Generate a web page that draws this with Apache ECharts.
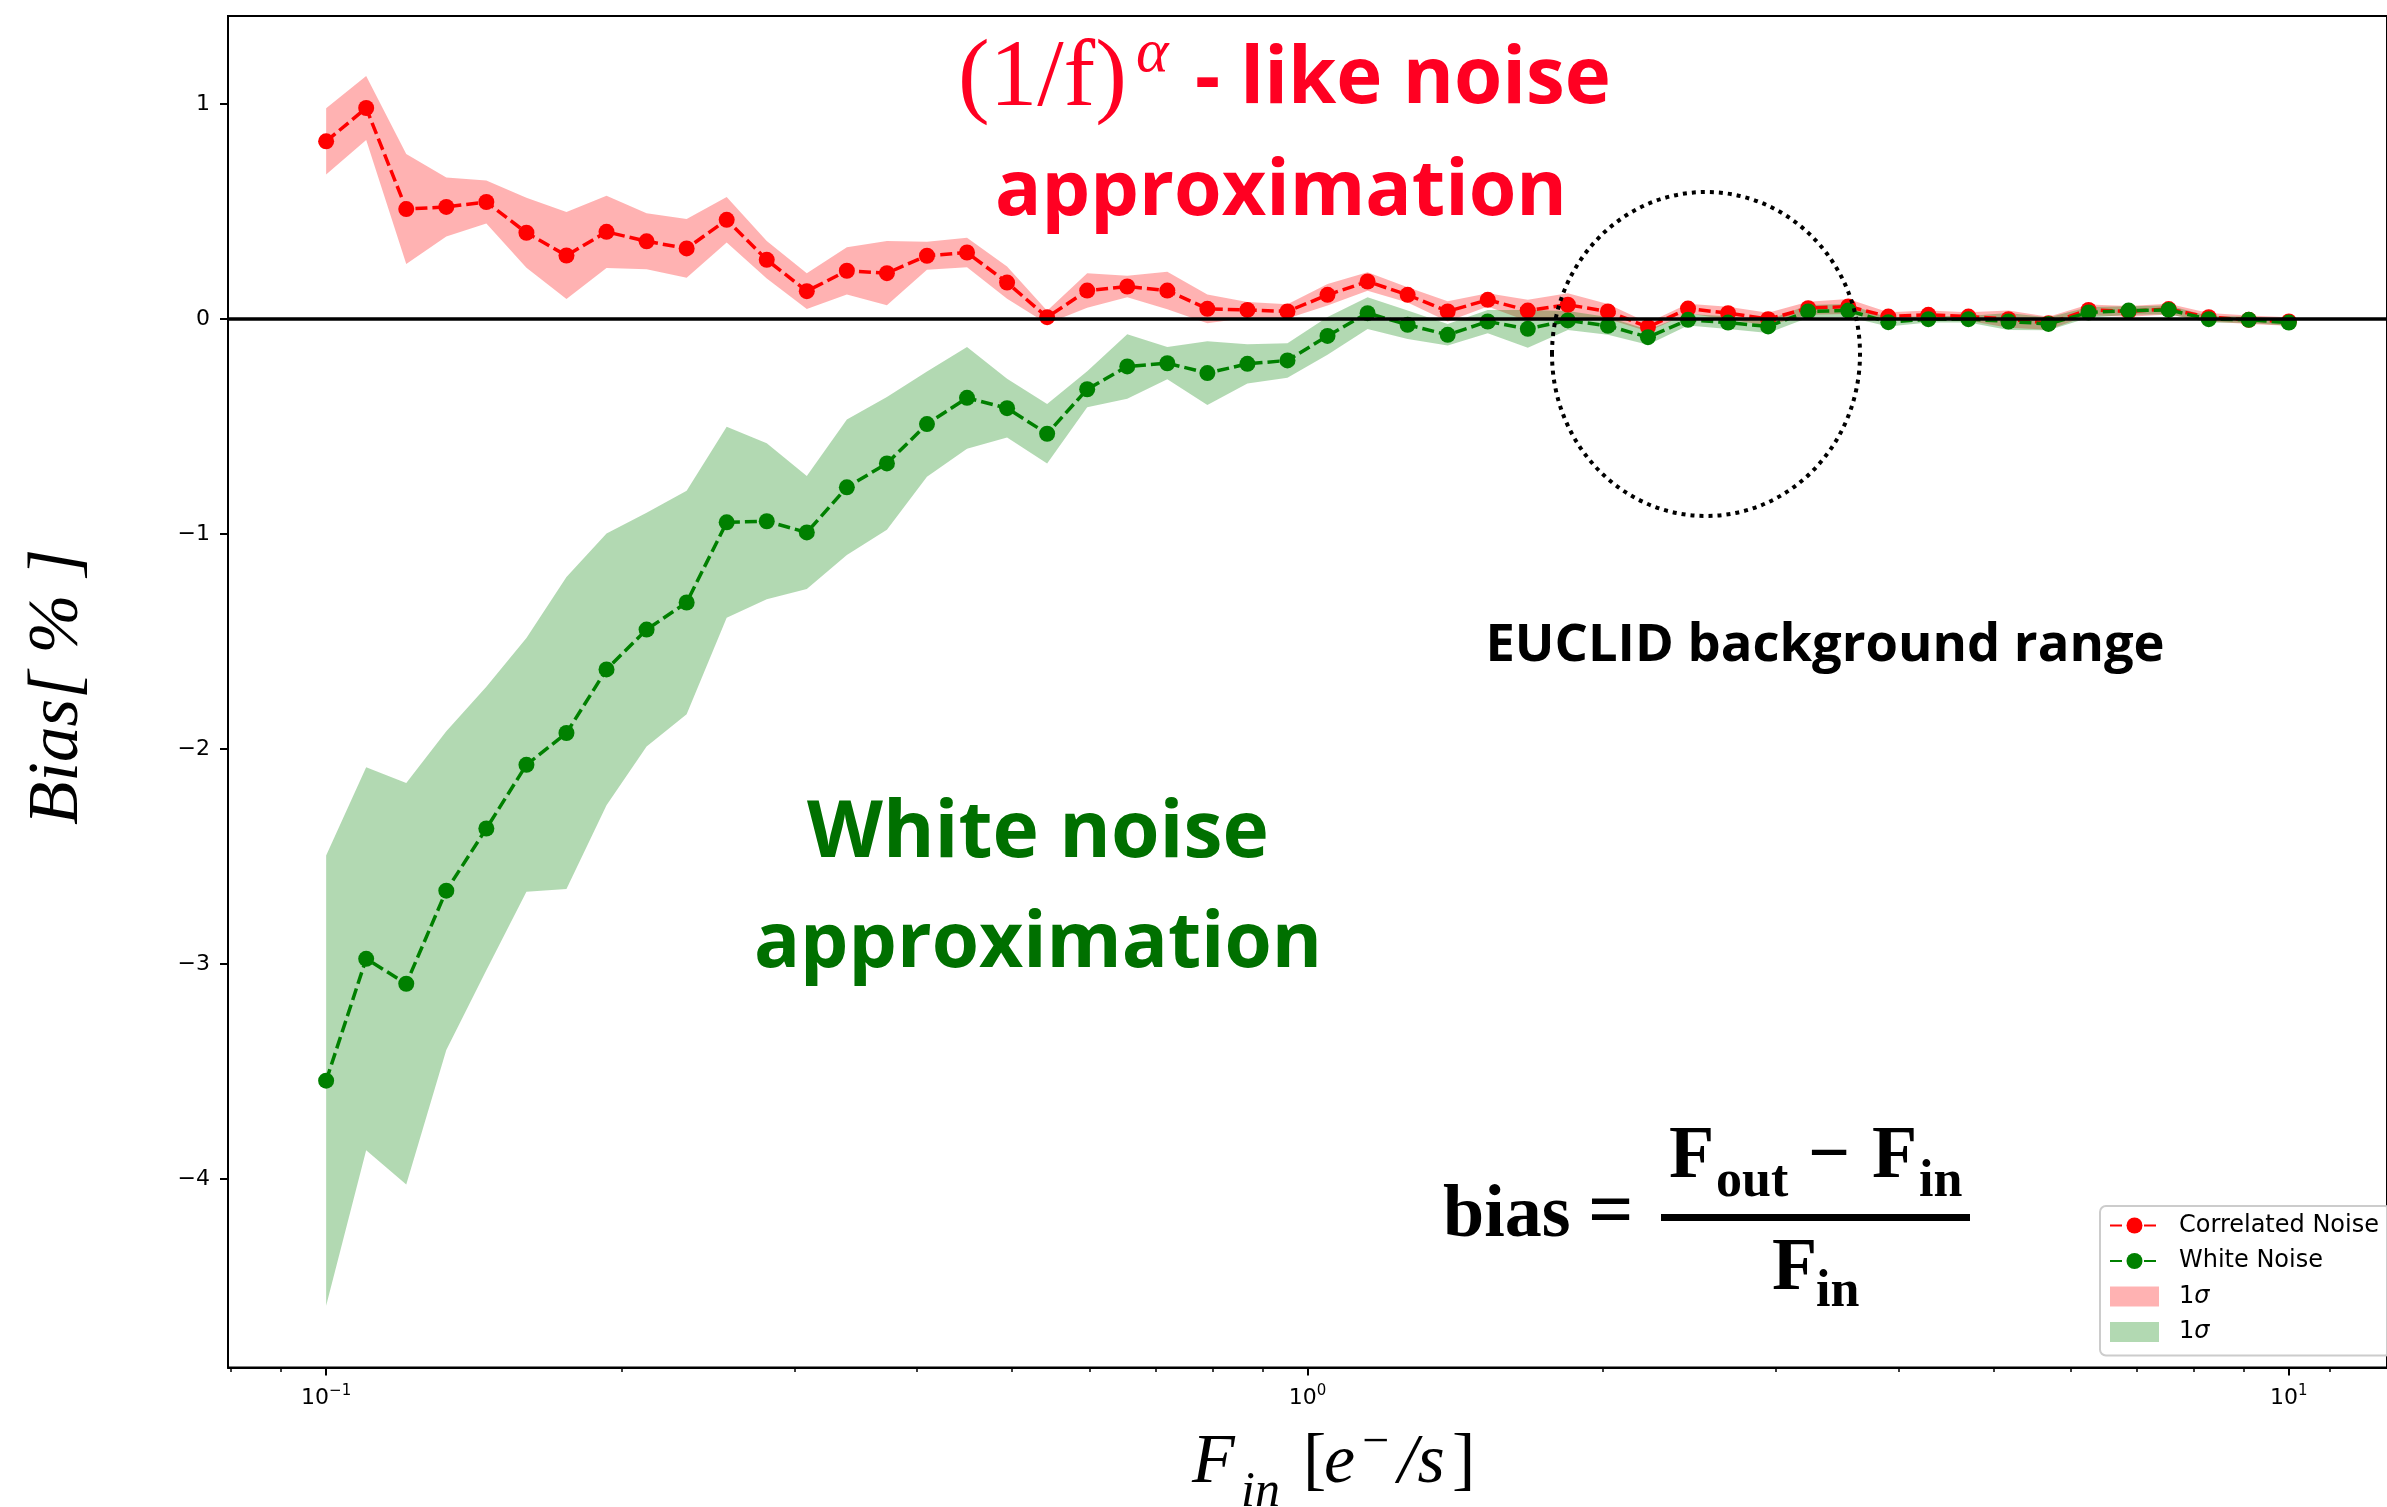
<!DOCTYPE html>
<html>
<head>
<meta charset="utf-8">
<script src="https://cdn.jsdelivr.net/npm/echarts@6/dist/echarts.min.js"></script>
<style>
  html, body { margin: 0; padding: 0; background: #ffffff; }
  #chart { width: 2387px; height: 1507px; }
</style>
</head>
<body>
<div id="chart"></div>
<script>
// Input flux F_in [e-/s] of the simulated ramps (log-spaced samples)
const fluxIn = [0.1, 0.10985, 0.12068, 0.13257, 0.14563, 0.15999, 0.17575, 0.19307, 0.2121, 0.233,
  0.25595, 0.28118, 0.30888, 0.33932, 0.37276, 0.40949, 0.44984, 0.49417, 0.54287, 0.59636,
  0.65513, 0.71969, 0.7906, 0.86851, 0.9541, 1.04811, 1.1514, 1.26486, 1.3895, 1.52642,
  1.67683, 1.84207, 2.02359, 2.223, 2.44205, 2.6827, 2.94705, 3.23746, 3.55648, 3.90694,
  4.29193, 4.71487, 5.17947, 5.68987, 6.25055, 6.86649, 7.54312, 8.28643, 9.10298, 10];

// Bias [%] with the correlated ((1/f)^alpha) noise model, and its 1-sigma spread
const correlatedBias = [0.827, 0.982, 0.512, 0.522, 0.545, 0.402, 0.296, 0.406, 0.362, 0.329,
  0.462, 0.276, 0.130, 0.225, 0.214, 0.295, 0.310, 0.170, 0.009, 0.133,
  0.152, 0.133, 0.048, 0.043, 0.036, 0.113, 0.175, 0.113, 0.036, 0.090,
  0.040, 0.067, 0.036, -0.037, 0.049, 0.028, 0.000, 0.051, 0.059, 0.012,
  0.020, 0.012, 0.000, -0.019, 0.043, 0.036, 0.047, 0.009, -0.003, -0.011];
const correlatedSigma = [0.154, 0.149, 0.256, 0.137, 0.100, 0.163, 0.202, 0.168, 0.130, 0.137,
  0.106, 0.087, 0.083, 0.110, 0.149, 0.065, 0.069, 0.075, 0.030, 0.080,
  0.050, 0.087, 0.067, 0.037, 0.033, 0.050, 0.043, 0.035, 0.047, 0.031,
  0.050, 0.054, 0.035, 0.020, 0.023, 0.030, 0.030, 0.030, 0.035, 0.020,
  0.020, 0.020, 0.040, 0.030, 0.025, 0.025, 0.025, 0.020, 0.020, 0.020];

// Bias [%] with the white noise model, and its 1-sigma spread
const whiteBias = [-3.542, -2.975, -3.091, -2.658, -2.369, -2.073, -1.925, -1.629, -1.444, -1.318,
  -0.945, -0.940, -0.992, -0.782, -0.671, -0.488, -0.366, -0.414, -0.533, -0.326,
  -0.220, -0.205, -0.251, -0.208, -0.192, -0.078, 0.028, -0.026, -0.073, -0.011,
  -0.045, -0.006, -0.031, -0.084, -0.003, -0.016, -0.034, 0.036, 0.040, -0.014,
  0.000, 0.000, -0.011, -0.022, 0.031, 0.040, 0.043, 0.000, -0.003, -0.016];
const whiteSigma = [1.047, 0.891, 0.934, 0.741, 0.659, 0.590, 0.726, 0.632, 0.544, 0.520,
  0.444, 0.363, 0.263, 0.315, 0.309, 0.245, 0.237, 0.137, 0.138, 0.084,
  0.150, 0.075, 0.148, 0.091, 0.080, 0.088, 0.074, 0.066, 0.050, 0.054,
  0.088, 0.044, 0.041, 0.035, 0.027, 0.030, 0.030, 0.030, 0.030, 0.020,
  0.015, 0.015, 0.040, 0.030, 0.025, 0.020, 0.020, 0.015, 0.015, 0.015];

// Axis ticks
const majorFluxTicks = [0.1, 1, 10];
const minorFluxTicks = [0.08, 0.09, 0.2, 0.3, 0.4, 0.5, 0.6, 0.7, 0.8, 0.9, 2, 3, 4, 5, 6, 7, 8, 9, 11];
const biasTicks = [-4, -3, -2, -1, 0, 1];

// The flux axis is logarithmic: positions are laid out in decades
const lg = Math.log10;
const X_MIN = -1.1, X_MAX = 1.1;
const Y_MIN = -4.876, Y_MAX = 1.41;

const RED = '#ff0000', GREEN = '#008000';
const RED_BAND = 'rgba(255,0,0,0.3)', GREEN_BAND = 'rgba(0,128,0,0.3)';
const ANNOT_RED = '#ff0022', ANNOT_GREEN = '#007000';

const SERIF = '"Liberation Serif", "Times New Roman", serif';
const SANS_BOLD = '"Open Sans", "Noto Sans", sans-serif';
const TICK_FONT = '"DejaVu Sans", sans-serif';

function points(values) {
  return fluxIn.map((f, i) => [lg(f), values[i]]);
}

// 1-sigma envelope drawn as a single polygon through the axis scales
function bandSeries(name, mean, sigma, color) {
  const rows = fluxIn.map((f, i) => [lg(f), mean[i] - sigma[i], mean[i] + sigma[i]]);
  return {
    name: name,
    type: 'custom',
    coordinateSystem: 'cartesian2d',
    data: rows,
    encode: { x: 0, y: [1, 2] },
    clip: true,
    silent: true,
    z: 1,
    itemStyle: { color: color },
    renderItem: function (params, api) {
      if (params.dataIndex !== 0) return null;
      const upper = rows.map(r => api.coord([r[0], r[2]]));
      const lower = rows.map(r => api.coord([r[0], r[1]])).reverse();
      return {
        type: 'polygon',
        shape: { points: upper.concat(lower) },
        style: { fill: color, stroke: null }
      };
    }
  };
}

function lineSeries(name, values, color, z) {
  return {
    name: name,
    type: 'line',
    data: points(values),
    symbol: 'circle',
    symbolSize: 16,
    showSymbol: true,
    itemStyle: { color: color },
    lineStyle: { color: color, width: 3.5, type: [12, 5] },
    emphasis: { disabled: true },
    silent: true,
    z: z
  };
}

function txt(text, x, y, size, color, opts) {
  opts = opts || {};
  return {
    type: 'text',
    x: x, y: y,
    rotation: opts.rotation || 0,
    silent: true,
    z: 50,
    style: {
      text: text,
      fill: color,
      fontSize: size,
      fontFamily: opts.family || SERIF,
      fontWeight: opts.weight || 'normal',
      fontStyle: opts.style || 'normal',
      align: opts.align || 'left',
      verticalAlign: 'middle'
    }
  };
}

const annotations = [
  // red label
  txt('(1/f)', 958, 80, 95, ANNOT_RED),
  txt('α', 1136, 55, 62, ANNOT_RED, { style: 'italic' }),
  txt('- like noise', 1195, 81, 78, ANNOT_RED, { family: SANS_BOLD, weight: 'bold' }),
  txt('approximation', 1281, 193, 77, ANNOT_RED, { family: SANS_BOLD, weight: 'bold', align: 'center' }),
  // green label
  txt('White noise', 1038, 835, 78.5, ANNOT_GREEN, { family: SANS_BOLD, weight: 'bold', align: 'center' }),
  txt('approximation', 1038, 945, 76.5, ANNOT_GREEN, { family: SANS_BOLD, weight: 'bold', align: 'center' }),
  // background range label
  txt('EUCLID background range', 1825, 646, 52.5, '#000000', { family: SANS_BOLD, weight: 'bold', align: 'center' }),
  // bias definition
  txt('bias', 1443, 1217, 74, '#000000', { weight: 'bold' }),
  txt('=', 1588, 1215, 80, '#000000', { weight: 'bold' }),
  txt('F', 1669, 1158, 74, '#000000', { weight: 'bold' }),
  txt('out', 1716, 1183, 52, '#000000', { weight: 'bold' }),
  txt('\u2212', 1808, 1158, 74, '#000000', { weight: 'bold' }),
  txt('F', 1872, 1158, 74, '#000000', { weight: 'bold' }),
  txt('in', 1919, 1183, 52, '#000000', { weight: 'bold' }),
  txt('F', 1772, 1270, 74, '#000000', { weight: 'bold' }),
  txt('in', 1816, 1293, 52, '#000000', { weight: 'bold' }),
  {
    type: 'rect', silent: true, z: 50,
    shape: { x: 1661, y: 1214, width: 309, height: 7 },
    style: { fill: '#000000' }
  },
  // x axis title
  txt('F', 1192, 1464, 70, '#000000', { style: 'italic' }),
  txt('in', 1241, 1493, 50, '#000000', { style: 'italic' }),
  txt('[', 1303, 1464, 70, '#000000'),
  txt('e', 1324, 1464, 70, '#000000', { style: 'italic' }),
  txt('\u2212', 1362, 1443, 48, '#000000'),
  txt('/s', 1398, 1464, 70, '#000000', { style: 'italic' }),
  txt(']', 1452, 1464, 70, '#000000'),
  // y axis title
  txt('Bias[ % ]', 58, 687, 71, '#000000', { style: 'italic', align: 'center', rotation: Math.PI / 2 }),
  // dotted ring around the background range
  {
    type: 'ellipse', silent: true, z: 40,
    shape: { cx: 1706, cy: 354, rx: 154, ry: 162 },
    style: { fill: null, stroke: '#000000', lineWidth: 4, lineDash: [4, 5] }
  }
];

const chart = echarts.init(document.getElementById('chart'), null, { renderer: 'canvas' });

chart.setOption({
  animation: false,
  backgroundColor: '#ffffff',
  grid: {
    left: 228, top: 16, width: 2177, height: 1351.5,
    show: true, borderColor: '#000000', borderWidth: 2, backgroundColor: 'transparent'
  },
  xAxis: [
    {
      type: 'value', min: X_MIN, max: X_MAX, position: 'bottom',
      axisLine: { show: true, onZero: false, lineStyle: { color: '#000000', width: 2 } },
      axisTick: { show: true, length: 8, lineStyle: { color: '#000000', width: 2 },
        customValues: majorFluxTicks.map(lg) },
      axisLabel: {
        customValues: majorFluxTicks.map(lg),
        margin: 16,
        formatter: function (v) {
          const e = Math.round(v);
          return '{b|10}{s|' + (e < 0 ? '\u2212' : '') + Math.abs(e) + '}';
        },
        rich: {
          b: { fontSize: 22, fontFamily: TICK_FONT, color: '#000', lineHeight: 26, verticalAlign: 'bottom' },
          s: { fontSize: 15, fontFamily: TICK_FONT, color: '#000', lineHeight: 16, verticalAlign: 'top' }
        }
      },
      splitLine: { show: false }
    },
    {
      type: 'value', min: X_MIN, max: X_MAX, position: 'bottom', gridIndex: 0,
      axisLine: { show: false, onZero: false },
      axisTick: { show: true, length: 4.5, lineStyle: { color: '#000000', width: 1.5 },
        customValues: minorFluxTicks.map(lg) },
      axisLabel: { show: false },
      splitLine: { show: false }
    }
  ],
  yAxis: {
    type: 'value', min: Y_MIN, max: Y_MAX,
    axisLine: { show: true, onZero: false, lineStyle: { color: '#000000', width: 2 } },
    axisTick: { show: true, length: 8, lineStyle: { color: '#000000', width: 2 }, customValues: biasTicks },
    axisLabel: {
      customValues: biasTicks,
      margin: 18,
      fontSize: 22, fontFamily: TICK_FONT, color: '#000000',
      formatter: v => (v < 0 ? '\u2212' + Math.abs(v) : String(v))
    },
    splitLine: { show: false }
  },
  legend: {
    orient: 'vertical',
    left: 2100, top: 1206,
    itemWidth: 49, itemHeight: 20, itemGap: 10.5,
    padding: [7, 12, 11, 9],
    backgroundColor: 'rgba(255,255,255,0.8)',
    borderColor: '#cccccc', borderWidth: 2, borderRadius: 6,
    selectedMode: false,
    textStyle: {
      fontFamily: TICK_FONT, fontSize: 24, color: '#000000', lineHeight: 25, padding: [0, 0, 0, 15],
      rich: { it: { fontFamily: TICK_FONT, fontSize: 24, fontStyle: 'italic', color: '#000000' } }
    },
    formatter: name => (name === 'corrBand' || name === 'whiteBand') ? '1{it|σ}' : name,
    data: [
      'Correlated Noise',
      'White Noise',
      { name: 'corrBand', icon: 'rect', itemStyle: { color: RED_BAND } },
      { name: 'whiteBand', icon: 'rect', itemStyle: { color: GREEN_BAND } }
    ]
  },
  graphic: annotations,
  series: [
    bandSeries('corrBand', correlatedBias, correlatedSigma, RED_BAND),
    bandSeries('whiteBand', whiteBias, whiteSigma, GREEN_BAND),
    {
      name: 'zero', type: 'line', data: [], z: 2, silent: true,
      markLine: {
        silent: true, symbol: 'none', label: { show: false },
        lineStyle: { color: '#000000', width: 3.5, type: 'solid' },
        data: [{ yAxis: 0 }]
      }
    },
    lineSeries('Correlated Noise', correlatedBias, RED, 3),
    lineSeries('White Noise', whiteBias, GREEN, 4)
  ]
});
</script>
</body>
</html>
